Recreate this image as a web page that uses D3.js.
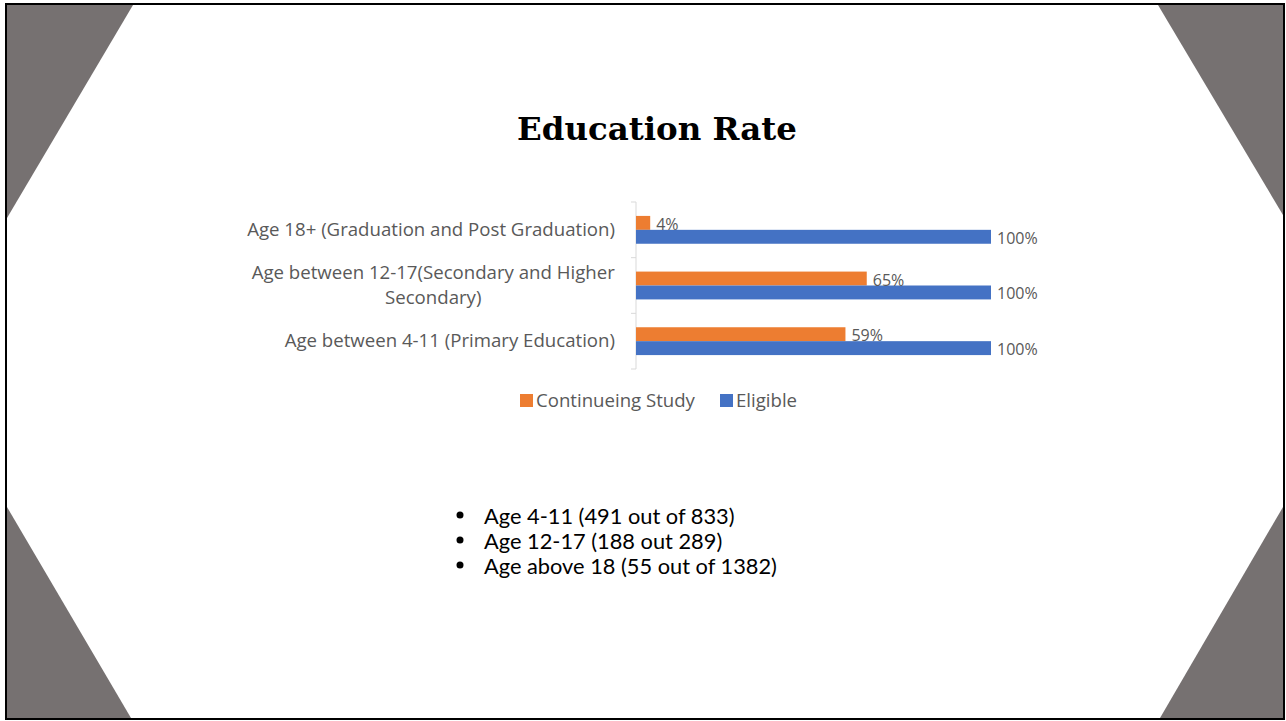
<!DOCTYPE html>
<html>
<head>
<meta charset="utf-8">
<script src="https://cdn.jsdelivr.net/npm/d3@7"></script>
<style>
  body { margin: 0; background: #fff; }
  svg { display: block; }
</style>
</head>
<body>
<svg id="chart" width="1286" height="721"></svg>
<script>
// data
var categories = [
  "Age 18+ (Graduation and Post Graduation)",
  "Age between 12-17(Secondary and Higher Secondary)",
  "Age between 4-11 (Primary Education)"
];
var categoryLines = [
  ["Age 18+ (Graduation and Post Graduation)"],
  ["Age between 12-17(Secondary and Higher", "Secondary)"],
  ["Age between 4-11 (Primary Education)"]
];
var seriesNames = ["Continueing Study", "Eligible"];
var continuing = [0.04, 0.65, 0.59];
var eligible = [1.00, 1.00, 1.00];
var notes = [
  "Age 4-11 (491 out of 833)",
  "Age 12-17 (188 out 289)",
  "Age above 18 (55 out of 1382)"
];

var colors = { "Continueing Study": "#ED7D31", "Eligible": "#4472C4" };
var grey = "#767171";
var labelColor = "#595959";

var svg = d3.select("#chart");

// scale a text's font so it spans the given width
function fit(sel, base, width) {
  var w = sel.node().getComputedTextLength();
  var size = base * width / w;
  sel.attr("font-size", size);
  return size;
}

// slide decorations
var corners = [
  [[7, 5], [133, 5], [7, 218]],
  [[1158, 5], [1283, 5], [1283, 215]],
  [[7, 507], [7, 718], [131, 718]],
  [[1283, 507], [1283, 718], [1160, 718]]
];
svg.selectAll("polygon.corner")
  .data(corners)
  .enter().append("polygon")
  .attr("class", "corner")
  .attr("points", function(d) { return d.map(function(p) { return p.join(","); }).join(" "); })
  .attr("fill", grey);

svg.append("rect")
  .attr("x", 6).attr("y", 4)
  .attr("width", 1278).attr("height", 715)
  .attr("fill", "none")
  .attr("stroke", "#000")
  .attr("stroke-width", 2);

// title
var title = svg.append("text")
  .attr("x", 657).attr("y", 140)
  .attr("text-anchor", "middle")
  .attr("font-family", "'DejaVu Serif', serif")
  .attr("font-weight", "bold")
  .attr("font-size", 34)
  .attr("fill", "#000")
  .text("Education Rate");
fit(title, 34, 280);

// scales
var y = d3.scaleBand()
  .domain(categories)
  .range([202, 369])
  .paddingInner(0.5)
  .paddingOuter(0.25);

var yInner = d3.scaleBand()
  .domain(seriesNames)
  .range([0, y.bandwidth()]);

var x = d3.scaleLinear()
  .domain([0, 1])
  .range([636, 991]);

var rows = categories.map(function(c, i) {
  return { cat: c, lines: categoryLines[i], values: [
    { key: "Continueing Study", value: continuing[i] },
    { key: "Eligible", value: eligible[i] }
  ] };
});

// category axis line and ticks at band boundaries
var step = y.step();
var bounds = d3.range(categories.length + 1).map(function(i) { return 202 + i * step; });
svg.append("line")
  .attr("x1", x(0)).attr("x2", x(0))
  .attr("y1", bounds[0]).attr("y2", bounds[bounds.length - 1])
  .attr("stroke", "#d9d9d9").attr("stroke-width", 1);
svg.selectAll("line.tick")
  .data(bounds)
  .enter().append("line")
  .attr("class", "tick")
  .attr("x1", x(0) - 5).attr("x2", x(0))
  .attr("y1", function(d) { return d; }).attr("y2", function(d) { return d; })
  .attr("stroke", "#d9d9d9");

var group = svg.selectAll("g.cat")
  .data(rows)
  .enter().append("g")
  .attr("class", "cat")
  .attr("transform", function(d) { return "translate(0," + y(d.cat) + ")"; });

group.selectAll("rect")
  .data(function(d) { return d.values; })
  .enter().append("rect")
  .attr("x", x(0))
  .attr("y", function(d) { return yInner(d.key); })
  .attr("width", function(d) { return x(d.value) - x(0); })
  .attr("height", yInner.bandwidth())
  .attr("fill", function(d) { return colors[d.key]; });

group.selectAll("text.val")
  .data(function(d) { return d.values; })
  .enter().append("text")
  .attr("class", "val")
  .attr("x", function(d) { return x(d.value) + 6; })
  .attr("y", function(d) { return yInner(d.key) + yInner.bandwidth() / 2 + 7; })
  .attr("font-family", "'Open Sans', sans-serif")
  .attr("font-size", 16)
  .attr("fill", labelColor)
  .text(function(d) { return d3.format(".0%")(d.value); });

// category labels
var catSize = 17;
var probe = svg.append("text")
  .attr("font-family", "'Open Sans', sans-serif")
  .attr("font-size", catSize)
  .text(categoryLines[0][0]);
catSize = fit(probe, catSize, 368);
probe.remove();

var catText = svg.selectAll("text.cat")
  .data(rows)
  .enter().append("text")
  .attr("class", "cat")
  .attr("text-anchor", "middle")
  .attr("font-family", "'Open Sans', sans-serif")
  .attr("font-size", catSize)
  .attr("fill", labelColor);

catText.each(function(d) {
  var t = d3.select(this);
  var cy = y(d.cat) + y.bandwidth() / 2;
  var n = d.lines.length;
  d.lines.forEach(function(line, j) {
    t.append("tspan")
      .attr("x", 0)
      .attr("y", cy + (j - (n - 1) / 2) * 25 + 6)
      .text(line);
  });
});
// right-align block, each line centred within the widest line
catText.each(function() {
  var t = d3.select(this);
  var w = this.getBBox().width;
  t.selectAll("tspan").attr("x", 615 - w / 2);
});

// legend
var legend = svg.append("g").attr("transform", "translate(520,394)");
var legendX = [0, 200];
var items = legend.selectAll("g")
  .data(seriesNames)
  .enter().append("g")
  .attr("transform", function(d, i) { return "translate(" + legendX[i] + ",0)"; });
items.append("rect")
  .attr("width", 13).attr("height", 13)
  .attr("fill", function(d) { return colors[d]; });
var legText = items.append("text")
  .attr("x", 16).attr("y", 13)
  .attr("font-family", "'Open Sans', sans-serif")
  .attr("font-size", 17)
  .attr("fill", labelColor)
  .text(function(d) { return d; });
var legSize = fit(legText.filter(function(d, i) { return i === 0; }), 17, 159);
legText.attr("font-size", legSize);

// bullet notes
var noteG = svg.append("g");
noteG.selectAll("circle")
  .data(notes)
  .enter().append("circle")
  .attr("cx", 460)
  .attr("cy", function(d, i) { return 515 + i * 25; })
  .attr("r", 3.5)
  .attr("fill", "#000");
var noteText = noteG.selectAll("text")
  .data(notes)
  .enter().append("text")
  .attr("x", 484)
  .attr("y", function(d, i) { return 524 + i * 25; })
  .attr("font-family", "Lato, sans-serif")
  .attr("font-size", 20)
  .attr("fill", "#000")
  .text(function(d) { return d; });
var noteSize = fit(noteText.filter(function(d, i) { return i === 2; }), 20, 293);
noteText.attr("font-size", noteSize);
</script>
</body>
</html>
